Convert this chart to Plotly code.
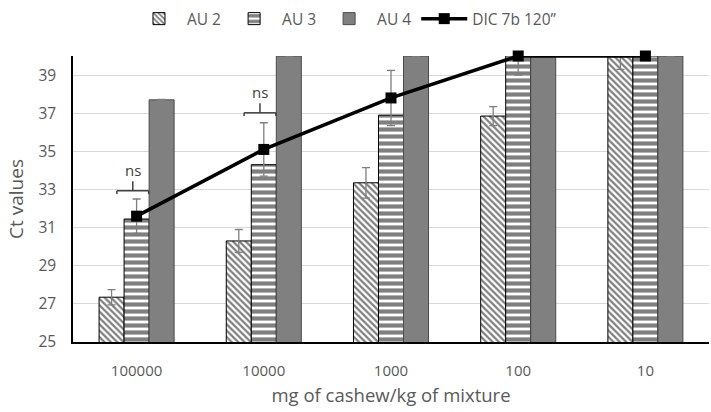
import plotly.graph_objects as go

categories = ["100000", "10000", "1000", "100", "10"]
au2 = [27.35, 30.3, 33.35, 36.85, 40.0]
au2_err = [0.4, 0.6, 0.8, 0.5, 0.7]
au3 = [31.45, 34.3, 36.9, 40.0, 40.0]
au4 = [37.7, 40.0, 40.0, 40.0, 40.0]
au4_err = [0.03, 0.0, 0.0, 0.0, 0.0]
dic = [31.6, 35.1, 37.8, 40.0, 40.0]
dic_err_plus = [0.9, 1.4, 1.45, 0.0, 0.0]
dic_err_minus = [0.9, 1.4, 1.45, 1.0, 0.0]
ns_groups = ["100000", "10000"]
ns_levels = [32.93, 37.02]
y_ticks = [25, 27, 29, 31, 33, 35, 37, 39]

TXT = "#595959"
FONT = "Open Sans"
ERR = "#7f7f7f"

fig = go.Figure()
fig.add_trace(go.Bar(
    name="AU 2", x=categories, y=au2,
    marker=dict(color="white", line=dict(color="black", width=1),
                pattern=dict(shape="\\", fgcolor="black", bgcolor="white", size=4.5, solidity=0.5)),
    error_y=dict(type="data", array=au2_err, color=ERR, thickness=1.3, width=4),
))
fig.add_trace(go.Bar(
    name="AU 3", x=categories, y=au3,
    marker=dict(color="white", line=dict(color="black", width=1),
                pattern=dict(shape="-", fgcolor="black", bgcolor="white", size=7, solidity=0.6)),
))
fig.add_trace(go.Bar(
    name="AU 4", x=categories, y=au4,
    marker=dict(color="#808080", line=dict(color="#4a4a4a", width=1)),
    error_y=dict(type="data", array=au4_err, color=ERR, thickness=1.3, width=4),
))
fig.add_trace(go.Scatter(
    name="DIC 7b 120’’", x=categories, y=dic, mode="lines+markers",
    line=dict(color="black", width=3.5),
    marker=dict(symbol="square", size=11, color="black"),
    error_y=dict(type="data", symmetric=False, array=dic_err_plus, arrayminus=dic_err_minus,
                 color=ERR, thickness=1.3, width=4),
    cliponaxis=False,
))

# "ns" brackets
for g, lvl in zip(ns_groups, ns_levels):
    c = categories.index(g) - 0.03
    hw = 0.125
    lc = dict(color="#404040", width=1.5)
    fig.add_shape(type="line", xref="x", yref="y", x0=c - hw, x1=c + hw, y0=lvl, y1=lvl, line=lc)
    fig.add_shape(type="line", xref="x", yref="y", x0=c - hw, x1=c - hw, y0=lvl, y1=lvl - 0.17, line=lc)
    fig.add_shape(type="line", xref="x", yref="y", x0=c + hw, x1=c + hw, y0=lvl, y1=lvl - 0.17, line=lc)
    fig.add_shape(type="line", xref="x", yref="y", x0=c, x1=c, y0=lvl, y1=lvl + 0.5, line=lc)
    fig.add_annotation(x=c, y=lvl + 0.5, xref="x", yref="y", text="ns", showarrow=False,
                       yanchor="bottom", yshift=-1, font=dict(family=FONT, size=15, color="#404040"))

fig.update_layout(
    width=711, height=412,
    margin=dict(l=73, r=2, t=56, b=70),
    paper_bgcolor="white", plot_bgcolor="white",
    barmode="group", bargap=0.41, bargroupgap=0,
    font=dict(family=FONT, color=TXT),
    legend=dict(orientation="h", x=0.43, xanchor="center", y=0.995, yanchor="top",
                yref="container", font=dict(family=FONT, size=15.5, color=TXT),
                itemwidth=46, traceorder="normal"),
    showlegend=True,
)
fig.update_xaxes(
    type="category", showline=True, linecolor="black", linewidth=1.5,
    ticks="", tickfont=dict(family=FONT, size=15, color=TXT), ticklabelstandoff=14,
    title=dict(text="mg of cashew/kg of mixture", font=dict(family=FONT, size=18.5, color=TXT), standoff=10),
    showgrid=False, zeroline=False,
)
fig.update_yaxes(
    range=[25, 40], tickvals=y_ticks, showline=True, linecolor="black", linewidth=1.5,
    ticks="", tickfont=dict(family=FONT, size=15.5, color=TXT), ticklabelstandoff=12,
    title=dict(text="Ct values", font=dict(family=FONT, size=19, color=TXT), standoff=10),
    showgrid=True, gridcolor="#d9d9d9", gridwidth=1.3, zeroline=False,
)

fig.write_html("out.html")
